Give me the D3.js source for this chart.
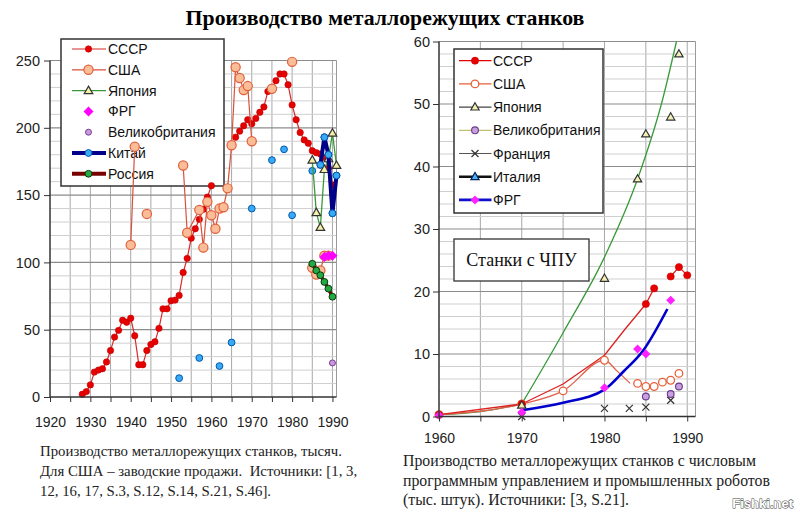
<!DOCTYPE html>
<html><head><meta charset="utf-8">
<script src="https://cdn.jsdelivr.net/npm/d3@7"></script>
<style>body{margin:0;background:#fff}svg{display:block}</style>
</head><body>
<svg id="c" width="800" height="517"></svg>
<script>
// ---------- LEFT CHART DATA (thousand units) ----------
const ussrYears = d3.range(1928, 1991);
// null marks a break in the line (no data)
const ussrValues = [2,4,9,18.5,20,21,26,34.5,44.5,49.5,57,55.5,58.5,45.5,24,24,34.5,39,41,51,65.5,65.5,71.5,72,75.5,92.5,103,118,125,132,139.5,148.5,157,null,null,null,null,null,193,197.5,201.5,206,203,207,211.5,215.5,227,229,235,240,240,232,217,206,196.5,191,188.5,183,181.5,180.5,178,170,157.5];
const usaYears  = [1940,1941,1942,1944,1945,1953,1954,1957,1958,1959,1960,1961,1962,1963,1964,1965,1966,1967,1968,1969,1970,1971,1975,1976,1980,1981,1985,1986,1987,1988,1989];
const usaValues = [113,186,null,136,null,172,122,139,111,145,135,125,140,141,155,187,245,237,228,231,190,null,229,null,249,null,96,91,94,105,105];
const japanYears = [1985,1986,1987,1988,1989,1990,1991];
const japanValues = [176,137,126,169,177,196,172];
const frgYears = [1988,1989,1990];
const frgValues = [104,105,105];
const ukYears = [1990];
const ukValues = [25.3];
const chinaYears = [1952,1957,1962,1965,1970,1975,1978,1980,1985,1987,1988,1989,1990,1991];
const chinaValues = [14,29,23,40.5,140,176,184,135,168,172.5,193,180,136.5,164.5];
const chinaLineFrom = 1987;
const russiaYears = [1985,1986,1987,1988,1989,1990];
const russiaValues = [99,94,90.5,85.5,80.5,74.5];
const leftXTicks = [1920,1930,1940,1950,1960,1970,1980,1990];
const leftYTicks = [0,50,100,150,200,250];

// ---------- RIGHT CHART DATA (NC machine tools, thousand units) ----------
const ncUssrYears = [1960,1970,1985,1986,1988,1989,1990];
const ncUssrValues = [0.3,2.0,18,20.5,22.4,23.9,22.6];
const ncUssrLineYears = [1960,1970,1975,1980,1982.5,1985,1986,null,1988,1989,1990];
const ncUssrLineValues = [0.3,2.0,5.2,9.8,14,18,20.5,null,22.4,23.9,22.6];
const ncUsaYears = [1960,1970,1975,1980,1984,1985,1986,1987,1988,1989];
const ncUsaValues = [0.3,2.0,4.1,9.0,5.3,4.8,4.8,5.5,5.8,6.9];
const ncUsaLineYears = [1960,1970,1975,1980,1981.5,1983.1];
const ncUsaLineValues = [0.3,2.0,4.1,9.0,7.3,5.3];
const ncJapanYears = [1970,1980,1984,1985,1988,1989];
const ncJapanValues = [1.8,22.1,38,45.2,47.9,58];
const ncJapanTrendYears = [1960,1965,1970,null,1970,1975,1980,1984,1987,1988.7];
const ncJapanTrendValues = [0.3,0.8,2.0,null,2.0,13.4,25.5,38,50.6,60];
const ncUkYears = [1985,1988,1989];
const ncUkValues = [3.2,3.6,4.8];
const ncFranceYears = [1970,1980,1983,1985,1988];
const ncFranceValues = [0,1.3,1.3,1.5,2.6];
const ncFrgYears = [1960,1970,1980,1984,1985,1988];
const ncFrgValues = [0.2,0.7,4.6,10.8,10,18.6];
const ncFrgTrendYears = [1970,1975,1980,1982.3,1984.7,1987.6];
const ncFrgTrendValues = [1.0,2.2,4.3,7.2,10.6,17.2];
const rightXTicks = [1960,1970,1980,1990];
const rightYTicks = [0,10,20,30,40,50,60];

const svg = d3.select('#c');
const SANS = 'Arial, "Liberation Sans", sans-serif';
const SERIF = '"Liberation Serif", "Times New Roman", serif';

function diamond(g, x, y, half, fill) {
  return g.append('path').attr('d', `M${x},${y-half}L${x+half},${y}L${x},${y+half}L${x-half},${y}Z`).attr('fill', fill);
}
// ---------- marker helper ----------
function drawMarker(g, type, x, y) {
  const s = {
    ussrL:  () => g.append('circle').attr('cx',x).attr('cy',y).attr('r',3.2).attr('fill','#e60000').attr('stroke','#c00000').attr('stroke-width',0.6),
    usaL:   () => g.append('circle').attr('cx',x).attr('cy',y).attr('r',4.6).attr('fill','#fbbd97').attr('stroke','#e0603c').attr('stroke-width',1.2),
    triL:   () => g.append('path').attr('d',d3.symbol(d3.symbolTriangle,32)()).attr('transform',`translate(${x},${y+0.5})`).attr('fill','#f4f0a8').attr('stroke','#333').attr('stroke-width',1.2),
    frgL:   () => diamond(g,x,y,5,'#ff00ff'),
    ukL:    () => g.append('circle').attr('cx',x).attr('cy',y).attr('r',3).attr('fill','#c89ad8').attr('stroke','#7a3a9a').attr('stroke-width',1),
    chinaL: () => g.append('circle').attr('cx',x).attr('cy',y).attr('r',3.4).attr('fill','#3aaaf4').attr('stroke','#0058b0').attr('stroke-width',1),
    russiaL:() => g.append('circle').attr('cx',x).attr('cy',y).attr('r',3.4).attr('fill','#22aa44').attr('stroke','#0a3a0a').attr('stroke-width',1),
    ussrR:  () => g.append('circle').attr('cx',x).attr('cy',y).attr('r',3.6).attr('fill','#e60000').attr('stroke','#d00000').attr('stroke-width',0.6),
    usaR:   () => g.append('circle').attr('cx',x).attr('cy',y).attr('r',3.8).attr('fill','#fff').attr('stroke','#e8603a').attr('stroke-width',1.3),
    triR:   () => g.append('path').attr('d',d3.symbol(d3.symbolTriangle,30)()).attr('transform',`translate(${x},${y+0.5})`).attr('fill','#f2f0b4').attr('stroke','#333').attr('stroke-width',1.2),
    ukR:    () => g.append('circle').attr('cx',x).attr('cy',y).attr('r',3.4).attr('fill','#c8a0e0').attr('stroke','#6a3a8a').attr('stroke-width',1.1),
    frR:    () => g.append('path').attr('d',`M${x-3.5},${y-3.5}L${x+3.5},${y+3.5}M${x-3.5},${y+3.5}L${x+3.5},${y-3.5}`).attr('stroke','#333').attr('stroke-width',1.2),
    itR:    () => g.append('path').attr('d',d3.symbol(d3.symbolTriangle,30)()).attr('transform',`translate(${x},${y+0.5})`).attr('fill','#4ab0ff').attr('stroke','#002050').attr('stroke-width',1.1),
    frgR:   () => diamond(g,x,y,4.5,'#ff22ff')
  };
  s[type]();
}

function series(g, xs, ys, years, values, opt) {
  const pts = years.map((yr,i)=>({yr, v: values[i]}));
  if (opt.line) {
    const line = d3.line().defined(d=>d.yr!==null && d.v!==null).x(d=>xs(d.yr)).y(d=>ys(d.v));
    if (opt.curve) line.curve(opt.curve);
    g.append('path').attr('d', line(pts)).attr('fill','none')
      .attr('stroke',opt.line).attr('stroke-width',opt.lw||1.2).attr('stroke-linejoin','round');
  }
  if (opt.marker) pts.filter(d=>d.v!==null && d.yr!==null).forEach(d=>drawMarker(g,opt.marker,xs(d.yr),ys(d.v)));
}
function pairs(years, values){ return years.map((yr,i)=>({yr, v: values[i]})); }

// ---------- title ----------
svg.append('text').attr('x',385).attr('y',25).attr('text-anchor','middle')
  .attr('font-family',SERIF).attr('font-weight','bold').attr('font-size',21.8)
  .text('Производство металлорежущих станков');

// ================= LEFT CHART =================
const xL = d3.scaleLinear().domain([1920,1991]).range([50,336.5]);
const yL = d3.scaleLinear().domain([0,250]).range([397,60.5]);
const gl = svg.append('g');
// grid
d3.range(1925,1991,5).forEach(yr=>{
  gl.append('line').attr('x1',xL(yr)).attr('x2',xL(yr)).attr('y1',yL(0)).attr('y2',yL(250)).attr('stroke','#a8a8a8').attr('stroke-width',1);
});
d3.range(10,251,10).forEach(v=>{
  gl.append('line').attr('x1',xL(1920)).attr('x2',xL(1991)).attr('y1',yL(v)).attr('y2',yL(v))
    .attr('stroke', v%50===0 ? '#8c8c8c' : '#cfcfcf').attr('stroke-width', v%50===0 ? 1.2 : 1);
});
gl.append('line').attr('x1',xL(1991)).attr('x2',xL(1991)).attr('y1',yL(0)).attr('y2',yL(250)).attr('stroke','#9a9a9a');

// legend (left) - drawn under the data, as in the original
{
  const lg = svg.append('g');
  lg.append('rect').attr('x',61).attr('y',39).attr('width',163).attr('height',147).attr('fill','#fff').attr('stroke','#333').attr('stroke-width',1.5);
  const items = [
    ['СССР','#d82a2a',1.2,'ussrL'],['США','#d9503a',1.2,'usaL'],['Япония','#3a9a3a',1.2,'triL'],
    ['ФРГ',null,0,'frgL'],['Великобритания',null,0,'ukL'],['Китай','#000088',4,'chinaL'],['Россия','#7a0000',4,'russiaL']];
  items.forEach((it,i)=>{
    const y = 49 + i*20.8;
    if (it[1]) lg.append('line').attr('x1',72).attr('x2',106).attr('y1',y).attr('y2',y).attr('stroke',it[1]).attr('stroke-width',it[2]);
    drawMarker(lg,it[3],88.5,y);
    lg.append('text').attr('x',108).attr('y',y).attr('dy','0.36em').attr('font-family',SANS).attr('font-size',14).attr('fill','#111').text(it[0]);
  });
}

// series
const gs = svg.append('g');
series(gs,xL,yL,ussrYears,ussrValues,{line:'#d82a2a',lw:1.2,marker:'ussrL'});
series(gs,xL,yL,usaYears,usaValues,{line:'#d9503a',lw:1.2,marker:'usaL'});
series(gs,xL,yL,chinaYears,chinaValues,{marker:'chinaL'});
series(gs,xL,yL,japanYears,japanValues,{line:'#3a9a3a',lw:1.3,marker:'triL'});
{
  const cp = pairs(chinaYears,chinaValues).filter(d=>d.yr>=chinaLineFrom);
  const line = d3.line().x(d=>xL(d.yr)).y(d=>yL(d.v));
  gs.append('path').attr('d',line(cp)).attr('fill','none').attr('stroke','#000088').attr('stroke-width',4).attr('stroke-linejoin','round');
  cp.forEach(d=>drawMarker(gs,'chinaL',xL(d.yr),yL(d.v)));
}
series(gs,xL,yL,russiaYears,russiaValues,{line:'#7a0000',lw:3.5,marker:'russiaL'});
series(gs,xL,yL,frgYears,frgValues,{marker:'frgL'});
series(gs,xL,yL,ukYears,ukValues,{marker:'ukL'});

// axes (left)
{
  const ax = svg.append('g').attr('transform',`translate(0,${yL(0)})`)
    .call(d3.axisBottom(xL).tickValues(d3.range(1920,1991,5)).tickSize(5).tickFormat(d=> d%10===0 ? d : ''));
  ax.select('.domain').attr('d',`M${xL(1920)},0H${xL(1991)}`).attr('stroke','#333').attr('stroke-width',1.5);
  ax.selectAll('.tick line').attr('stroke','#333');
  ax.selectAll('text').attr('font-family',SANS).attr('font-size',14).attr('fill','#222').attr('dy','1.6em');
  const ay = svg.append('g').attr('transform',`translate(${xL(1920)},0)`)
    .call(d3.axisLeft(yL).tickValues(leftYTicks).tickSize(6).tickPadding(4));
  ay.select('.domain').attr('d',`M0,${yL(0)}V${yL(250)}`).attr('stroke','#333').attr('stroke-width',1.5);
  ay.selectAll('.tick line').attr('stroke','#333');
  ay.selectAll('text').attr('font-family',SANS).attr('font-size',14.5).attr('fill','#222');
}

// ================= RIGHT CHART =================
const xR = d3.scaleLinear().domain([1960,1991]).range([439,695.5]);
const yR = d3.scaleLinear().domain([0,60]).range([416.5,41.5]);
const gr = svg.append('g');
d3.range(1965,1991,5).forEach(yr=>{
  gr.append('line').attr('x1',xR(yr)).attr('x2',xR(yr)).attr('y1',yR(0)).attr('y2',yR(60)).attr('stroke','#a8a8a8');
});
d3.range(2,61,2).forEach(v=>{
  gr.append('line').attr('x1',xR(1960)).attr('x2',xR(1991)).attr('y1',yR(v)).attr('y2',yR(v))
    .attr('stroke', v%10===0 ? '#8c8c8c' : '#cfcfcf').attr('stroke-width', v%10===0 ? 1.2 : 1);
});
gr.append('line').attr('x1',xR(1991)).attr('x2',xR(1991)).attr('y1',yR(0)).attr('y2',yR(60)).attr('stroke','#9a9a9a');

// lines
series(gr,xR,yR,ncJapanTrendYears,ncJapanTrendValues,{line:'#3a9a3a',lw:1.3,curve:d3.curveMonotoneX});
series(gr,xR,yR,ncUsaLineYears,ncUsaLineValues,{line:'#e0604a',lw:1.3,curve:d3.curveMonotoneX});
series(gr,xR,yR,ncUssrLineYears,ncUssrLineValues,{line:'#dd2222',lw:1.3});
series(gr,xR,yR,ncFrgTrendYears,ncFrgTrendValues,{line:'#0000cc',lw:2.6,curve:d3.curveMonotoneX});
// markers
series(gr,xR,yR,ncFranceYears,ncFranceValues,{marker:'frR'});
series(gr,xR,yR,ncUkYears,ncUkValues,{marker:'ukR'});
series(gr,xR,yR,ncUsaYears,ncUsaValues,{marker:'usaR'});
series(gr,xR,yR,ncUssrYears,ncUssrValues,{marker:'ussrR'});
series(gr,xR,yR,ncJapanYears,ncJapanValues,{marker:'triR'});
series(gr,xR,yR,ncFrgYears,ncFrgValues,{marker:'frgR'});

// legend (right)
{
  const lg = svg.append('g');
  lg.append('rect').attr('x',454).attr('y',49).attr('width',149).attr('height',164).attr('fill','#fff').attr('stroke','#333').attr('stroke-width',1.5);
  const items = [
    ['СССР','#e00000',1.3,'ussrR'],['США','#e8603a',1.3,'usaR'],['Япония','#444',1.2,'triR'],
    ['Великобритания','#c0c070',1.2,'ukR'],['Франция','#555',1.1,'frR'],['Италия','#111',2.6,'itR'],['ФРГ','#1010cc',2.6,'frgR']];
  items.forEach((it,i)=>{
    const y = 60.7 + i*23.2;
    lg.append('line').attr('x1',459).attr('x2',491.5).attr('y1',y).attr('y2',y).attr('stroke',it[1]).attr('stroke-width',it[2]);
    drawMarker(lg,it[3],475,y);
    lg.append('text').attr('x',493).attr('y',y).attr('dy','0.36em').attr('font-family',SANS).attr('font-size',14).attr('fill','#111').text(it[0]);
  });
  lg.append('rect').attr('x',454).attr('y',239).attr('width',135).attr('height',42).attr('fill','#fff').attr('stroke','#333').attr('stroke-width',1.3);
  lg.append('text').attr('x',521.5).attr('y',260).attr('dy','0.35em').attr('text-anchor','middle')
    .attr('font-family',SERIF).attr('font-size',18).attr('fill','#111').text('Станки с ЧПУ');
}
// axes (right)
{
  const ax = svg.append('g').attr('transform',`translate(0,${yR(0)})`)
    .call(d3.axisBottom(xR).tickValues(d3.range(1960,1991,5)).tickSize(5).tickFormat(d=> d%10===0 ? d : ''));
  ax.select('.domain').attr('d',`M${xR(1960)},0H${xR(1991)}`).attr('stroke','#333').attr('stroke-width',1.5);
  ax.selectAll('.tick line').attr('stroke','#333');
  ax.selectAll('text').attr('font-family',SANS).attr('font-size',14).attr('fill','#222').attr('dy','1.35em');
  const ay = svg.append('g').attr('transform',`translate(${xR(1960)},0)`)
    .call(d3.axisLeft(yR).tickValues(rightYTicks).tickSize(6).tickPadding(3));
  ay.select('.domain').attr('d',`M0,${yR(0)}V${yR(60)}`).attr('stroke','#333').attr('stroke-width',1.5);
  ay.selectAll('.tick line').attr('stroke','#333');
  ay.selectAll('text').attr('font-family',SANS).attr('font-size',14.5).attr('fill','#222');
}

// ---------- captions ----------
const capL = ['Производство металлорежущих станков, тысяч.','Для США – заводские продажи.  Источники: [1, 3,','12, 16, 17, S.3, S.12, S.14, S.21, S.46].'];
capL.forEach((t,i)=>svg.append('text').attr('x',40).attr('y',456+i*20).attr('font-family',SERIF).attr('font-size',14.8).attr('fill','#222').style('white-space','pre').text(t));
const capR = ['Производство металлорежущих станков с числовым','программным управлением и промышленных роботов','(тыс. штук). Источники: [3, S.21].'];
capR.forEach((t,i)=>svg.append('text').attr('x',403).attr('y',466+i*19.5).attr('font-family',SERIF).attr('font-size',15.8).attr('fill','#222').text(t));
svg.append('text').attr('x',793).attr('y',508).attr('text-anchor','end').attr('font-family',SANS).attr('font-weight','bold')
  .attr('font-size',13).attr('fill','#fff').attr('stroke','#444').attr('stroke-width',0.9).attr('paint-order','stroke').text('Fishki.net');
</script>
</body></html>
